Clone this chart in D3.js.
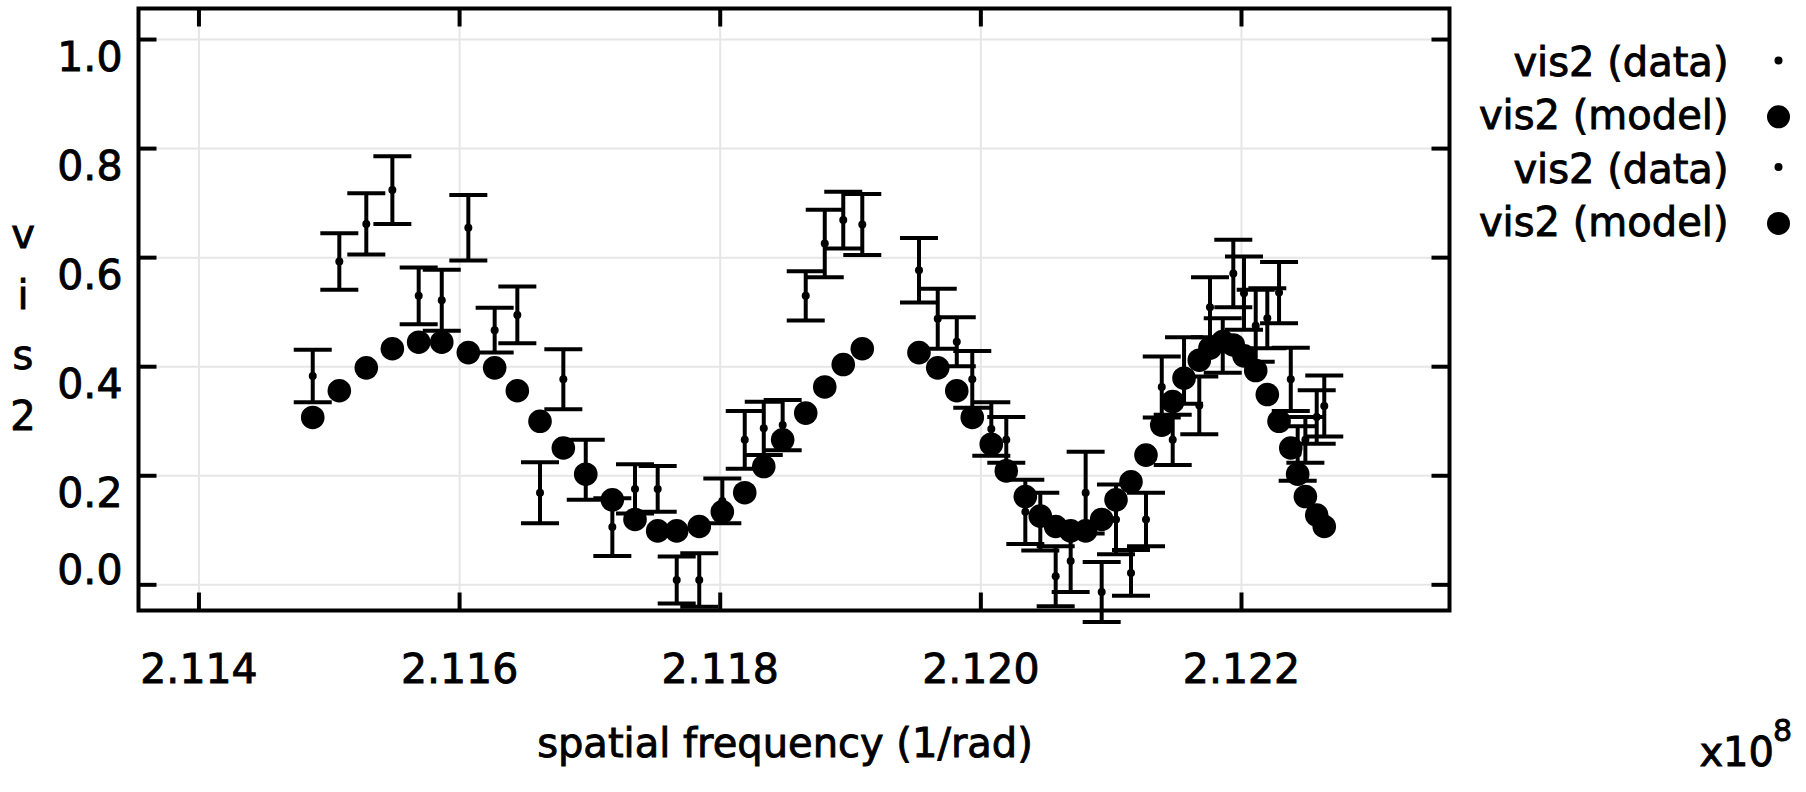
<!DOCTYPE html>
<html>
<head>
<meta charset="utf-8">
<script src="https://cdn.jsdelivr.net/npm/d3@7"></script>
<style>
  body { margin: 0; background: #fff; }
  text { font-family: "DejaVu Sans", sans-serif; fill: #000; stroke: #000; stroke-width: 0.9px; }
</style>
</head>
<body>
<div id="chart"></div>
<script>
// spatial frequency, in units of 1e8 1/rad
var freq = [
  2.114877, 2.115081, 2.115288, 2.115488, 2.115690, 2.115867, 2.116071, 2.116273,
  2.116447, 2.116621, 2.116800, 2.116972, 2.117176, 2.117350, 2.117524, 2.117670,
  2.117843, 2.118020, 2.118192, 2.118338, 2.118483, 2.118660, 2.118806, 2.118948,
  2.119094,
  2.119529, 2.119673, 2.119819, 2.119938, 2.120084, 2.120199, 2.120345, 2.120460,
  2.120578, 2.120693, 2.120808, 2.120931, 2.121041, 2.121156, 2.121271, 2.121392,
  2.121476, 2.121563, 2.121680, 2.121762, 2.121860, 2.121941, 2.122023, 2.122113,
  2.122202, 2.122292, 2.122382, 2.122435, 2.122494, 2.122581, 2.122639
];

var vis2Data = [
  0.382, 0.592, 0.661, 0.723, 0.529, 0.521, 0.654, 0.466,
  0.494, 0.168, 0.376, 0.210, 0.105, 0.175, 0.175, 0.008,
  0.008, 0.153, 0.265, 0.286, 0.292, 0.529, 0.625, 0.668,
  0.660,
  0.576, 0.487, 0.445, 0.376, 0.285, 0.265, 0.133, 0.115,
  0.015, 0.043, 0.168, -0.014, 0.119, 0.021, 0.119, 0.362,
  0.265, 0.392, 0.328, 0.508, 0.438, 0.570, 0.534, 0.474,
  0.488, 0.535, 0.376, 0.240, 0.265, 0.307, 0.327
];

var vis2Err = [
  0.048, 0.052, 0.056, 0.062, 0.052, 0.056, 0.060, 0.041,
  0.052, 0.056, 0.055, 0.055, 0.053, 0.045, 0.042, 0.043,
  0.049, 0.041, 0.053, 0.049, 0.046, 0.045, 0.062, 0.052,
  0.056,
  0.059, 0.055, 0.045, 0.052, 0.049, 0.042, 0.059, 0.053,
  0.055, 0.057, 0.075, 0.055, 0.064, 0.042, 0.049, 0.056,
  0.046, 0.061, 0.053, 0.055, 0.050, 0.062, 0.067, 0.066,
  0.055, 0.056, 0.058, 0.050, 0.042, 0.049, 0.056
];

var vis2Model = [
  0.306, 0.355, 0.397, 0.432, 0.444, 0.444, 0.425, 0.397,
  0.355, 0.299, 0.250, 0.202, 0.155, 0.119, 0.098, 0.098,
  0.106, 0.133, 0.168, 0.216, 0.265, 0.314, 0.362, 0.403,
  0.432,
  0.425, 0.397, 0.355, 0.306, 0.257, 0.208, 0.161, 0.125,
  0.106, 0.098, 0.098, 0.119, 0.155, 0.188, 0.237, 0.292,
  0.335, 0.378, 0.411, 0.433, 0.445, 0.439, 0.419, 0.392,
  0.348, 0.299, 0.250, 0.202, 0.161, 0.127, 0.106
];

var xTicks = [2.114, 2.116, 2.118, 2.120, 2.122];
var yTicks = [0.0, 0.2, 0.4, 0.6, 0.8, 1.0];
var legendLabels = ["vis2 (data)", "vis2 (model)", "vis2 (data)", "vis2 (model)"];
var legendKinds = ["data", "model", "data", "model"];

var width = 1806, height = 792;
var margin = {top: 8.5, right: 356.5, bottom: 181.5, left: 138.5};
var plotW = width - margin.left - margin.right;
var plotH = height - margin.top - margin.bottom;

var svg = d3.select("#chart")
  .append("svg")
  .attr("width", width)
  .attr("height", height);

var g = svg.append("g")
  .attr("transform", "translate(" + margin.left + "," + margin.top + ")");

var x = d3.scaleLinear()
  .domain([2.11354, 2.12360])
  .range([0, plotW]);

var y = d3.scaleLinear()
  .domain([-0.048, 1.056])
  .range([plotH, 0]);

// grid
g.append("g")
  .attr("class", "grid")
  .attr("transform", "translate(0," + plotH + ")")
  .call(d3.axisBottom(x).tickValues(xTicks).tickSize(-plotH).tickFormat(""));
g.append("g")
  .attr("class", "grid")
  .call(d3.axisLeft(y).tickValues(yTicks).tickSize(-plotW).tickFormat(""));
g.selectAll(".grid .domain").remove();
g.selectAll(".grid line").attr("stroke", "#e6e6e6").attr("stroke-width", 2);

// error bars
var capHalf = 19;
var bars = g.append("g").attr("class", "errbars");
freq.forEach(function(f, i) {
  var cx = x(f);
  var lo = y(vis2Data[i] - vis2Err[i]);
  var hi = y(vis2Data[i] + vis2Err[i]);
  bars.append("line")
    .attr("x1", cx).attr("x2", cx).attr("y1", lo).attr("y2", hi)
    .attr("stroke", "#000").attr("stroke-width", 4);
  [lo, hi].forEach(function(cy) {
    bars.append("line")
      .attr("x1", cx - capHalf).attr("x2", cx + capHalf)
      .attr("y1", cy).attr("y2", cy)
      .attr("stroke", "#000").attr("stroke-width", 4);
  });
});

// data points
g.selectAll(".dataPt")
  .data(freq)
  .enter()
  .append("circle")
  .attr("class", "dataPt")
  .attr("cx", d => x(d))
  .attr("cy", (d, i) => y(vis2Data[i]))
  .attr("r", 4)
  .attr("fill", "#000");

// model points
g.selectAll(".modelPt")
  .data(freq)
  .enter()
  .append("circle")
  .attr("class", "modelPt")
  .attr("cx", d => x(d))
  .attr("cy", (d, i) => y(vis2Model[i]))
  .attr("r", 11.8)
  .attr("fill", "#000");

// axes with inward ticks on all four sides
var tickLen = 18;
var bottomAxis = g.append("g")
  .attr("class", "axis")
  .attr("transform", "translate(0," + plotH + ")")
  .call(d3.axisBottom(x).tickValues(xTicks).tickSizeInner(-tickLen).tickSizeOuter(0)
    .tickFormat(d3.format(".3f")));
bottomAxis.selectAll("text")
  .attr("y", 72.5)
  .attr("dy", 0)
  .style("font-size", "41px");

g.append("g")
  .attr("class", "axis")
  .call(d3.axisTop(x).tickValues(xTicks).tickSizeInner(-tickLen).tickSizeOuter(0).tickFormat(""));

var leftAxis = g.append("g")
  .attr("class", "axis")
  .call(d3.axisLeft(y).tickValues(yTicks).tickSizeInner(-tickLen).tickSizeOuter(0)
    .tickFormat(d3.format(".1f")));
// labels sit just below their tick, unless that would run past the frame
leftAxis.selectAll("text")
  .attr("x", -16)
  .attr("dy", 0)
  .attr("y", d => (y(d) + 31 > plotH ? -1 : 31))
  .style("font-size", "41px");

g.append("g")
  .attr("class", "axis")
  .attr("transform", "translate(" + plotW + ",0)")
  .call(d3.axisRight(y).tickValues(yTicks).tickSizeInner(-tickLen).tickSizeOuter(0).tickFormat(""));

g.selectAll(".axis .domain").remove();
g.selectAll(".axis line").attr("stroke", "#000").attr("stroke-width", 4);
g.selectAll(".axis text").attr("fill", "#000");

// frame
g.append("rect")
  .attr("x", 0).attr("y", 0)
  .attr("width", plotW).attr("height", plotH)
  .attr("fill", "none")
  .attr("stroke", "#000")
  .attr("stroke-width", 4);

// axis titles
svg.append("text")
  .attr("x", margin.left + plotW / 2 - 9)
  .attr("y", 757)
  .attr("text-anchor", "middle")
  .style("font-size", "40px")
  .text("spatial frequency (1/rad)");

svg.append("text")
  .attr("x", 1774)
  .attr("y", 766)
  .attr("text-anchor", "end")
  .style("font-size", "40px")
  .text("x10");
svg.append("text")
  .attr("x", 1773)
  .attr("y", 741)
  .style("font-size", "30px")
  .text("8");

var ylab = "vis2".split("");
svg.selectAll(".ylab")
  .data(ylab)
  .enter()
  .append("text")
  .attr("class", "ylab")
  .attr("x", 23)
  .attr("y", (d, i) => 248 + i * 60.5)
  .attr("text-anchor", "middle")
  .style("font-size", "40px")
  .text(d => d);

// legend
var legend = svg.append("g").attr("class", "legend");
legendLabels.forEach(function(lbl, i) {
  var ly = 63.5 + i * 53.3;
  legend.append("text")
    .attr("x", 1728.5)
    .attr("y", ly + 12.6)
    .attr("text-anchor", "end")
    .style("font-size", "40px")
    .text(lbl);
  legend.append("circle")
    .attr("cx", 1778.5)
    .attr("cy", legendKinds[i] === "data" ? ly - 3 : ly)
    .attr("r", legendKinds[i] === "data" ? 4 : 11.5)
    .attr("fill", "#000");
});
</script>
</body>
</html>
